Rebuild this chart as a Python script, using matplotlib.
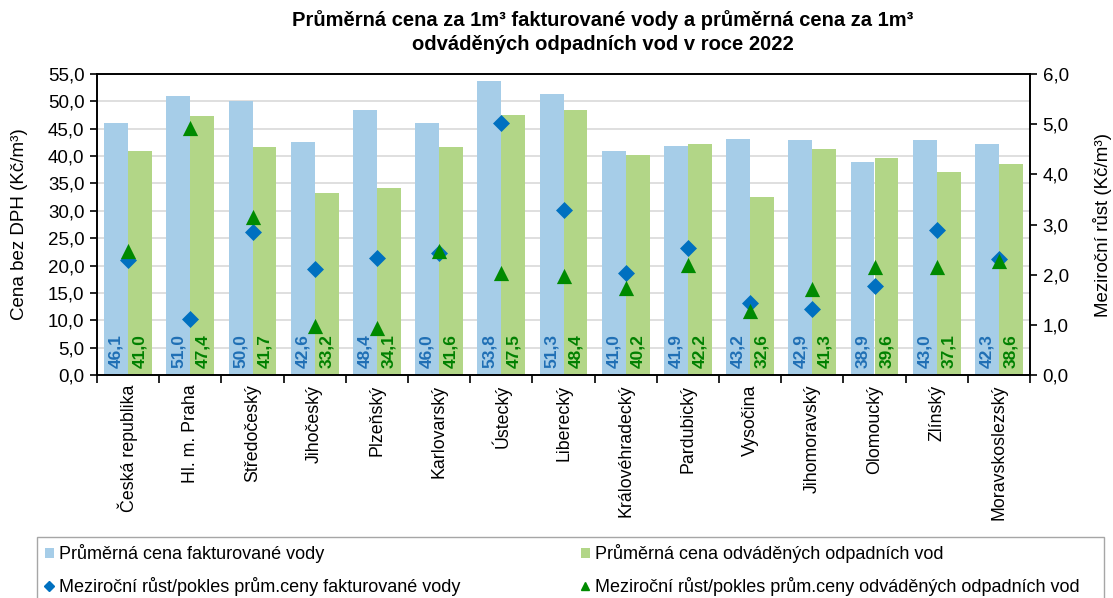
import numpy as np
import matplotlib
matplotlib.use("Agg")
import matplotlib.pyplot as plt
from matplotlib.ticker import FuncFormatter, MultipleLocator
from matplotlib.patches import Patch, Rectangle
from matplotlib.lines import Line2D

plt.rcParams['font.family'] = ['Liberation Sans', 'DejaVu Sans']

regions = ["Česká republika", "Hl. m. Praha", "Středočeský", "Jihočeský", "Plzeňský",
           "Karlovarský", "Ústecký", "Liberecký", "Královéhradecký", "Pardubický",
           "Vysočina", "Jihomoravský", "Olomoucký", "Zlínský", "Moravskoslezský"]
price_water = [46.1, 51.0, 50.0, 42.6, 48.4, 46.0, 53.8, 51.3, 41.0, 41.9, 43.2, 42.9, 38.9, 43.0, 42.3]
price_sewage = [41.0, 47.4, 41.7, 33.2, 34.1, 41.6, 47.5, 48.4, 40.2, 42.2, 32.6, 41.3, 39.6, 37.1, 38.6]
growth_water = [2.30, 1.12, 2.85, 2.12, 2.33, 2.44, 5.02, 3.28, 2.04, 2.53, 1.43, 1.32, 1.77, 2.90, 2.32]
growth_sewage = [2.48, 4.92, 3.14, 0.98, 0.93, 2.47, 2.03, 1.98, 1.74, 2.20, 1.27, 1.72, 2.16, 2.15, 2.27]

c_bar1 = '#a6cde8'
c_bar2 = '#b2d687'
c_dia = '#0070c0'
c_tri = '#008a00'
c_lab1 = '#1f6fb5'
c_lab2 = '#008000'

comma = FuncFormatter(lambda v, p: ("%.1f" % v).replace('.', ','))

W, H = 1113, 598
fig = plt.figure(figsize=(W / 100, H / 100), dpi=100)
ax = fig.add_axes([97 / W, 1 - 375 / H, 933 / W, 301 / H])
ax2 = ax.twinx()

x = np.arange(len(regions))
w = 0.385
ax.bar(x - w / 2, price_water, w, color=c_bar1, zorder=2)
ax.bar(x + w / 2, price_sewage, w, color=c_bar2, zorder=2)

for i in range(len(regions)):
    ax.text(x[i] - w / 2, 1.3, comma(price_water[i], None), rotation=90, ha='center', va='bottom',
            color=c_lab1, fontsize=12.5, fontweight='bold', zorder=3)
    ax.text(x[i] + w / 2, 1.3, comma(price_sewage[i], None), rotation=90, ha='center', va='bottom',
            color=c_lab2, fontsize=12.5, fontweight='bold', zorder=3)

ax2.scatter(x, growth_water, marker='D', s=75, color=c_dia, zorder=4, linewidths=0)
ax2.scatter(x, growth_sewage, marker='^', s=120, color=c_tri, zorder=5, linewidths=0)

ax.set_xlim(-0.5, len(regions) - 0.5)
ax.set_ylim(0, 55)
ax2.set_ylim(0, 6)
ax.yaxis.set_major_locator(MultipleLocator(5))
ax2.yaxis.set_major_locator(MultipleLocator(1))
ax.yaxis.set_major_formatter(comma)
ax2.yaxis.set_major_formatter(comma)
ax.grid(axis='y', color='#d9d9d9', linewidth=1.2, zorder=0)
ax.set_axisbelow(True)

ax.set_xticks(x)
ax.set_xticklabels(regions, rotation=90, fontsize=12.8)
ax.tick_params(axis='x', length=0, pad=7)
ax.set_xticks(np.arange(len(regions) + 1) - 0.5, minor=True)
ax.tick_params(axis='x', which='minor', length=6, width=1.2, direction='out')
ax.tick_params(axis='y', length=5, width=1.2, labelsize=13.5, pad=4)
ax2.tick_params(axis='y', length=5, width=1.2, labelsize=13.5, pad=4)

for a in (ax, ax2):
    for s in a.spines.values():
        s.set_linewidth(1.2)
        s.set_color('black')

# label anchors: left label's right edge, right label's left edge
ax.set_ylabel("Cena bez DPH (Kč/m³)", fontsize=13.5)
ax.yaxis.set_label_coords((28 - 97) / 933, 0.5)
ax2.set_ylabel("Meziroční růst (Kč/m³)", fontsize=13.5)
ax2.yaxis.set_label_coords((1093 - 97) / 933, 0.5)

fig.text(603 / W, 1 - 32 / H, "Průměrná cena za 1m³ fakturované vody a průměrná cena za 1m³\nodváděných odpadních vod v roce 2022",
         ha='center', va='center', fontsize=14.5, fontweight='bold', linespacing=1.3)

handles = [
    Patch(facecolor=c_bar1, edgecolor='none'),
    Line2D([], [], marker='D', color=c_dia, linestyle='none', markersize=5),
    Patch(facecolor=c_bar2, edgecolor='none'),
    Line2D([], [], marker='^', color=c_tri, linestyle='none', markersize=6),
]
labels = ["Průměrná cena fakturované vody",
          "Meziroční růst/pokles prům.ceny fakturované vody",
          "Průměrná cena odváděných odpadních vod",
          "Meziroční růst/pokles prům.ceny odváděných odpadních vod"]
leg = fig.legend(handles, labels, ncol=2, loc='upper left',
                 bbox_to_anchor=(40 / W, 0, (1085 - 40) / W, 1 - 539 / H), mode='expand',
                 fontsize=13, frameon=False,
                 handlelength=0.45, handleheight=0.45, handletextpad=0.3, labelspacing=0.75,
                 borderaxespad=0, borderpad=0.3, columnspacing=2)
fig.patches.append(Rectangle((37 / W, -0.02), (1104 - 37) / W, 0.02 + 1 - 537 / H,
                             transform=fig.transFigure, facecolor='none',
                             edgecolor='#a6a6a6', linewidth=1.0))

fig.savefig("out.png", dpi=100)
